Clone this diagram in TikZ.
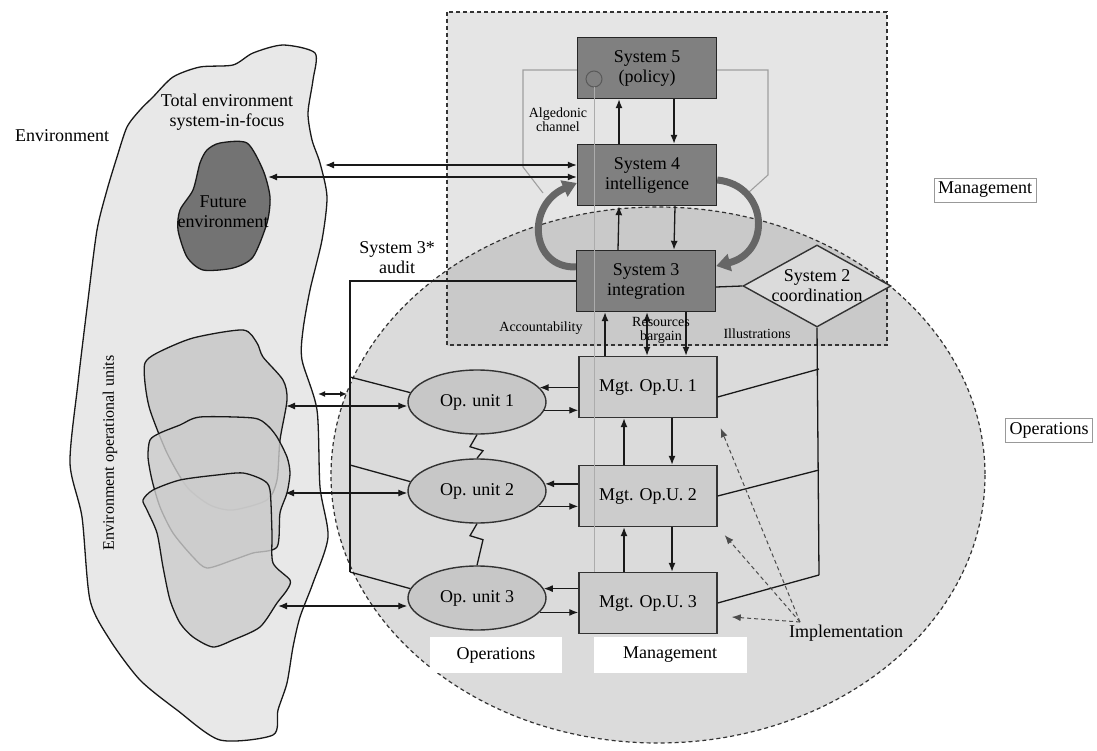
\documentclass[tikz,border=0pt]{standalone}
\usepackage{fontspec}
\setmainfont{Liberation Serif}
\usetikzlibrary{arrows.meta,shapes.geometric}
\definecolor{mgmtbg}{gray}{0.90}
\definecolor{opsbg}{gray}{0.86}
\definecolor{overlap}{gray}{0.79}
\definecolor{sysfill}{gray}{0.50}
\definecolor{mgtfill}{gray}{0.80}
\definecolor{opfill}{gray}{0.78}
\definecolor{envfill}{gray}{0.91}
\definecolor{futfill}{gray}{0.45}
\definecolor{unitfill}{gray}{0.80}
\definecolor{curvearr}{gray}{0.40}
\begin{document}
\begin{tikzpicture}[x=1pt,y=-1pt,
  every node/.style={font=\fontsize{18}{20}\selectfont, align=center, inner sep=0pt},
  small/.style={font=\fontsize{14}{14}\selectfont},
  conn/.style={line width=1.3pt, draw=black!90},
  arr/.style={conn, -{Latex[length=9pt,width=7pt]}},
  dblarr/.style={conn, {Latex[length=9pt,width=7pt]}-{Latex[length=9pt,width=7pt]}},
  dasharr/.style={line width=1pt, draw=black!70, dash pattern=on 4pt off 3pt, -{Latex[length=9pt,width=7pt]}},
  thickarr/.style={line width=7pt, draw=curvearr, -{Triangle[length=14pt,width=17pt]}},
  sysbox/.style={draw=black!85, line width=1.4pt, fill=sysfill, minimum width=139pt, minimum height=61pt},
  mgtbox/.style={draw=black!80, line width=1.4pt, fill=mgtfill, minimum width=138pt, minimum height=61pt},
  opunit/.style={ellipse, draw=black!80, line width=1.4pt, fill=opfill, minimum width=138pt, minimum height=64pt},
  blob/.style={draw=black!90, line width=1.3pt},
  algline/.style={draw=gray!75, line width=1.1pt},
  sidelabel/.style={draw=gray!80, line width=0.6pt, inner sep=4pt, fill=white},
  whitelabel/.style={fill=white, minimum height=36pt}
]
\fill[white] (0,0) rectangle (1097,751);
\useasboundingbox (0,0) rectangle (1097,751);

% environment blob
\draw[blob, fill=envfill] plot[smooth cycle, tension=0.45] coordinates {
 (315,53) (313,80) (308,113) (312,140) (320,163) (327,197) (322,240) (310,290) (303,330)
 (302,360) (317,410) (320,487) (328,537) (313,583) (300,617) (293,647) (287,683) (278,710)
 (273,735) (220,740) (177,710) (140,680) (110,640) (90,600) (82,517) (70,463) (78,383)
 (88,300) (97,230) (107,190) (117,157) (127,127) (140,110) (153,97) (173,77) (200,67)
 (233,65) (253,53) (283,45)};
% future environment
\draw[blob, fill=futfill] plot[smooth cycle, tension=0.45] coordinates {
 (220,143) (247,143) (263,170) (270,197) (267,223) (253,257) (233,268) (203,270)
 (187,257) (178,230) (180,210) (193,190) (200,163) (207,150)};
% environment operational units
\draw[blob, fill=unitfill] plot[smooth cycle, tension=0.45] coordinates {
 (145,363) (157,353) (193,338) (243,330) (257,343) (263,357) (283,380) (287,400) (280,440)
 (277,480) (267,500) (233,510) (210,505) (187,487) (167,453) (150,410) (145,383)};
\draw[blob, fill=unitfill, fill opacity=0.8] plot[smooth cycle, tension=0.45] coordinates {
 (150,440) (160,433) (180,425) (200,417) (253,418) (267,425) (277,437) (287,457) (290,473)
 (287,493) (280,513) (277,547) (253,553) (233,560) (207,568) (193,557) (173,533) (160,507)
 (152,480) (148,457)};
\draw[blob, fill=unitfill, fill opacity=0.8] plot[smooth cycle, tension=0.45] coordinates {
 (143,500) (153,490) (180,480) (217,475) (243,473) (263,480) (270,490) (272,533) (273,563)
 (290,580) (287,590) (277,603) (260,627) (233,640) (213,647) (193,637) (180,623) (170,600)
 (163,567) (157,533) (147,510)};

% management / operations regions
\fill[mgmtbg] (447,12) rectangle (887,345);
\fill[opsbg] (658,475) ellipse [x radius=327, y radius=268];
\begin{scope}
 \clip (447,12) rectangle (887,345);
 \fill[overlap] (658,475) ellipse [x radius=327, y radius=268];
\end{scope}
\draw[line width=1.2pt, black!80, dash pattern=on 4pt off 3pt] (447,12) rectangle (887,345);
\draw[line width=1.2pt, black!80, dash pattern=on 4pt off 3pt] (658,475) ellipse [x radius=327, y radius=268];

% texts in environment
\node (envlab) at (62,136) {Environment};
\node (totlab) at (227,112) {Total environment\\system-in-focus};
\node (futlab) at (223,212) {Future\\environment};
\node[rotate=90, font=\fontsize{16}{18}\selectfont] (eoulab) at (110,453) {Environment operational units};
\node (auditlab) at (397,258) {System 3*\\audit};

% bottom and side labels
\node[whitelabel, minimum width=132pt] (opsbot) at (496,655) {Operations};
\node[whitelabel, minimum width=153pt] (mgtbot) at (670,655) {Management};
\node[sidelabel] (mgtside) at (985,190) {Management};
\node[sidelabel] (opsside) at (1049,430) {Operations};

% systems 5, 4, 3
\node[sysbox] (s5) at (647,68) {System 5\\(policy)};
\node[sysbox] (s4) at (647,175) {System 4\\intelligence};
\node[sysbox] (s3) at (646,281) {System 3\\integration};
\node[circle, draw=gray!70!black, line width=1pt, fill=sysfill, minimum size=16pt] (c5) at (594,79) {};
% algedonic channel
\draw[algline] ([yshift=-2pt]s5.west) -- (523,70) -- (523,167) -- (543,193);
\draw[algline] ([yshift=-2pt]s5.east) -- (768,70) -- (768,175) -- (748,193);
\node[small] (alglab) at (558,120) {Algedonic\\channel};

% system 2
\node[diamond, draw=black!80, line width=1.4pt, fill=opsbg, minimum width=148pt, minimum height=82pt] (s2) at (817,286) {};
\node (s2lab) at (s2) {System 2\\coordination};

% management units and operational units
\node[mgtbox] (m1) at (648,387) {Mgt. Op.U. 1};
\node[mgtbox] (m2) at (648,496) {Mgt. Op.U. 2};
\node[mgtbox] (m3) at (648,603) {Mgt. Op.U. 3};
\node[opunit] (o1) at (477,402) {Op. unit 1};
\node[opunit] (o2) at (477,491) {Op. unit 2};
\node[opunit] (o3) at (477,598) {Op. unit 3};
\draw[algline, draw=gray!65, line width=0.8pt] (c5.south) -- (c5.south |- m3.north);

% vertical arrows between systems
\draw[arr] ([xshift=-28pt]s4.north) -- ([xshift=-28pt]s5.south);
\draw[arr] ([xshift=27pt]s5.south) -- ([xshift=27pt]s4.north);
\draw[arr] ([xshift=-28pt]s3.north) -- ([xshift=-28pt]s4.south);
\draw[arr] ([xshift=28pt]s4.south) -- ([xshift=28pt]s3.north);
\draw[arr] ([xshift=-43pt]m1.north) -- ([xshift=-41pt]s3.south);
\draw[dblarr] ([xshift=-1pt]m1.north) -- ([xshift=1pt]s3.south);
\draw[arr] ([xshift=40pt]s3.south) -- ([xshift=38pt]m1.north);
\node[small] (acclab) at (541,328) {Accountability};
\node[small] (reslab) at (661,330) {Resources\\bargain};
\node[small] (illlab) at (757,334) {Illustrations};

% thick curved arrows
\draw[thickarr] ([yshift=14pt]s3.west) .. controls (530,268) and (526,205) .. ([yshift=-8pt]s4.west);
\draw[thickarr] ([yshift=-5pt]s4.east) .. controls (768,185) and (772,252) .. ([yshift=15pt]s3.east);

% system 3 to system 2
\draw[conn] ([yshift=-6pt]s3.east) -- (s2.west);

% management chain
\draw[arr] ([xshift=-24pt]m2.north) -- ([xshift=-24pt]m1.south);
\draw[arr] ([xshift=24pt]m1.south) -- ([xshift=24pt]m2.north);
\draw[arr] ([xshift=-24pt]m3.north) -- ([xshift=-24pt]m2.south);
\draw[arr] ([xshift=24pt]m2.south) -- ([xshift=24pt]m3.north);

% op units <-> management
\draw[arr] (m1.west |- o1.13) -- (o1.13);
\draw[arr] (o1.-7) -- (m1.west |- o1.-7);
\draw[arr] (m2.west |- o2.6) -- (o2.6);
\draw[arr] (o2.-14) -- (m2.west |- o2.-14);
\draw[arr] (m3.west |- o3.8) -- (o3.8);
\draw[arr] (o3.-13) -- (m3.west |- o3.-13);

% zigzags
\draw[conn] (o1.south) -- ++(-7,12) -- ++(13,4) -- (o2.north);
\draw[conn] (o2.south) -- ++(-7,12) -- ++(13,4) -- (o3.north);

% system 2 coordination lines
\coordinate (v1) at (819,369);
\coordinate (v2) at (819,470);
\coordinate (v3) at (819,575);
\draw[conn] (s2.south) -- (v3);
\draw[conn] ([yshift=-10pt]m1.east) -- (v1);
\draw[conn] (m2.east) -- (v2);
\draw[conn] (m3.east) -- (v3);

% implementation
\node (impl) at (846,633) {Implementation};
\coordinate (ip) at (800,622);
\draw[dasharr] (ip) -- ([shift={(3,10)}]m1.south east);
\draw[dasharr] (ip) -- ([shift={(7,8)}]m2.south east);
\draw[dasharr] (ip) -- ([shift={(14,14)}]m3.east);

% audit channel
\coordinate (au) at (350,281);
\coordinate (a1) at (350,377);
\coordinate (a2) at (350,465);
\coordinate (a3) at (350,572);
\draw[conn] (s3.west |- au) -- (au) -- (a3);
\draw[conn] (a1) -- (o1.172);
\draw[conn] (a2) -- (o2.172);
\draw[conn] (a3) -- (o3.172);

% environment links
\coordinate (eb) at (325,165);
\coordinate (fe) at (268,177);
\draw[dblarr] (eb) -- (eb -| s4.west);
\draw[dblarr] (fe) -- (fe -| s4.west);
\coordinate (e1) at (286,406);
\coordinate (e2) at (285,493);
\coordinate (e3) at (278,606);
\draw[dblarr] (e1) -- (e1 -| o1.west);
\draw[dblarr] (e2) -- (e2 -| o2.west);
\draw[dblarr] (e3) -- (e3 -| o3.west);
\coordinate (sa) at (318,394);
\coordinate (sb) at (347,394);
\draw[conn, {Latex[length=7pt,width=6pt]}-{Latex[length=7pt,width=6pt]}] (sa) -- (sb);
\end{tikzpicture}
\end{document}
